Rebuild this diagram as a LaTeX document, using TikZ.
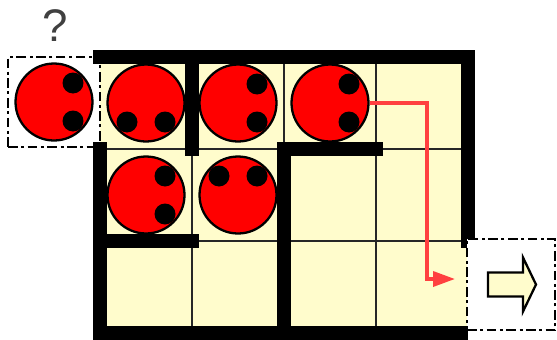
\documentclass[tikz,border=0pt]{standalone}
\usepackage{fontspec}
\setmainfont{Liberation Sans}
\usetikzlibrary{arrows.meta, positioning, calc}
\definecolor{ballred}{RGB}{255, 0, 0}
\definecolor{cellyellow}{RGB}{255, 252, 204}
\definecolor{pathred}{RGB}{255, 64, 64}
\definecolor{qgray}{RGB}{64, 64, 64}
\tikzset{
  >=Stealth,
  patharrow/.style={-{Triangle[length=4.4mm, width=3mm]}, line width=2pt, pathred},
  wall/.style={line width=8.5pt, line cap=rect, black},
  cellline/.style={line width=1.1pt, black!85}
}

\begin{document}
\begin{tikzpicture}[x=0.02cm, y=0.02cm,
    ball/.style={circle, draw=black, fill=ballred, line width=1.3pt, minimum size=1.54cm, inner sep=0pt},
    holebox/.style={rectangle, draw=black, fill=white, line width=1.2pt, dash pattern=on 5.5pt off 2pt on 1.7pt off 2pt, minimum width=1.84cm, minimum height=1.8cm, inner sep=0pt},
    blockarrow/.style={draw=black, fill=cellyellow, line width=1.3pt, line join=miter},
    dot/.style={black}
]
    \useasboundingbox (0,0) rectangle (557,339);

    % Board: 4 columns x 3 rows, cells 92 wide (x = 100..468, y = 6..282)
    \fill[cellyellow] (100,6) rectangle (468,282);
    \foreach \x in {192, 284, 376}
        \draw[cellline] (\x,6) -- (\x,282);
    \foreach \y in {98, 190}
        \draw[cellline] (100,\y) -- (468,\y);

    % Entry box (left of the top row)
    \node[holebox] (entry) at (54,237) {};
    \node[font=\fontsize{26}{26}\selectfont, text=qgray] (qmark) at (55,313) {?};

    % Walls
    \draw[wall] (100,282) -- (468,282) -- (468,98);
    \draw[wall] (100,190) -- (100,6) -- (461,6);
    \draw[wall] (192,282) -- (192,190);
    \draw[wall] (100,98) -- (192,98);
    \draw[wall] (284,190) -- (376,190);
    \draw[wall] (284,190) -- (284,6);

    % Exit box (right of the bottom row)
    \node[holebox, minimum width=1.76cm, minimum height=1.82cm] (exit) at (511,54.5) {};
    \draw[blockarrow, shift={(exit.center)}] (-23,12) -- (12,12) -- (12,27) -- (25,0) -- (12,-27) -- (12,-12) -- (-23,-12) -- cycle;

    % Balls with their two holes
    \node[ball] (b0) at (entry) {};
    \fill[dot] ($(b0)+(19,19)$) circle[radius=0.21cm] ($(b0)+(19,-19)$) circle[radius=0.21cm];

    \node[ball] (b1) at (146,236) {};
    \fill[dot] ($(b1)+(-19,-19)$) circle[radius=0.21cm] ($(b1)+(19,-19)$) circle[radius=0.21cm];

    \node[ball] (b2) at (238,236) {};
    \fill[dot] ($(b2)+(19,19)$) circle[radius=0.21cm] ($(b2)+(19,-19)$) circle[radius=0.21cm];

    \node[ball] (b3) at (330,236) {};
    \fill[dot] ($(b3)+(19,19)$) circle[radius=0.21cm] ($(b3)+(19,-19)$) circle[radius=0.21cm];

    \node[ball] (b4) at (146,144) {};
    \fill[dot] ($(b4)+(19,19)$) circle[radius=0.21cm] ($(b4)+(19,-19)$) circle[radius=0.21cm];

    \node[ball] (b5) at (238,144) {};
    \fill[dot] ($(b5)+(-19,19)$) circle[radius=0.21cm] ($(b5)+(19,19)$) circle[radius=0.21cm];

    % Route to the exit
    \coordinate (bend) at (427,60);
    \coordinate (goal) at (455,60);
    \draw[patharrow] (b3.east) -| (bend) -- (goal);
\end{tikzpicture}
\end{document}
